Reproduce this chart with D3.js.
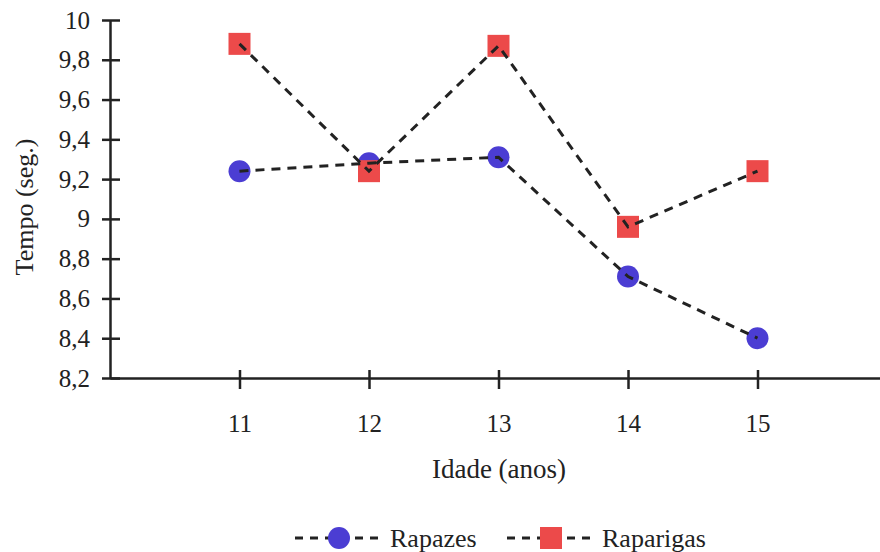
<!DOCTYPE html>
<html>
<head>
<meta charset="utf-8">
<script src="https://cdn.jsdelivr.net/npm/d3@7"></script>
<style>
  body { margin: 0; background: #fff; }
</style>
</head>
<body>
<div id="chart"></div>
<script>
// idades e tempos
const idades = [11, 12, 13, 14, 15]
const rapazes = [9.24, 9.28, 9.31, 8.71, 8.40]
const raparigas = [9.88, 9.24, 9.87, 8.96, 9.24]
const yTicks = [8.2, 8.4, 8.6, 8.8, 9, 9.2, 9.4, 9.6, 9.8, 10]
const series = [
    { name: "Rapazes", values: rapazes, shape: "circle", color: "#4b3dd3" },
    { name: "Raparigas", values: raparigas, shape: "square", color: "#ec4a4a" }
]

const width = 880, height = 552
const serif = "'Times New Roman', 'Liberation Serif', Times, serif"
const pt = d3.formatLocale({ decimal: ",", thousands: ".", grouping: [3], currency: ["", "€"] })
const fmt = pt.format("~g")

let svg = d3.select("#chart").append("svg")
    .attr("width", width)
    .attr("height", height)
    .style("font-family", serif)

const x = d3.scaleLinear().domain([10, 16]).range([110, 887])
const y = d3.scaleLinear().domain([8.2, 10]).range([378, 20])

// eixo y
svg.append("g")
    .attr("transform", "translate(110,0)")
    .call(d3.axisLeft(y).tickValues(yTicks).tickFormat(fmt).tickSizeOuter(0))
    .attr("font-family", serif)
    .call(g => g.select(".domain").attr("stroke", "#222").attr("stroke-width", 2.5))
    .call(g => g.selectAll(".tick line").attr("x1", -8).attr("x2", 10)
                .attr("stroke", "#222").attr("stroke-width", 2.5))
    .call(g => g.selectAll(".tick text").attr("x", -20).attr("fill", "#222")
                .style("font-size", "25px"))

// eixo x
svg.append("g")
    .attr("transform", "translate(0,378)")
    .call(d3.axisBottom(x).tickValues(idades).tickFormat(d3.format("d")).tickSizeOuter(0))
    .attr("font-family", serif)
    .call(g => g.select(".domain").attr("stroke", "#222").attr("stroke-width", 2.5))
    .call(g => g.selectAll(".tick line").attr("y1", -8).attr("y2", 11)
                .attr("stroke", "#222").attr("stroke-width", 2.5))
    .call(g => g.selectAll(".tick text").attr("y", 36).attr("fill", "#222")
                .style("font-size", "25px"))

// títulos
svg.append("text")
    .attr("transform", "translate(33,207) rotate(-90)")
    .attr("text-anchor", "middle")
    .attr("fill", "#222")
    .style("font-size", "26px")
    .text("Tempo (seg.)")

svg.append("text")
    .attr("x", 499).attr("y", 478)
    .attr("text-anchor", "middle")
    .attr("fill", "#222")
    .style("font-size", "27px")
    .text("Idade (anos)")

function drawMarker(g, shape, color, cx, cy) {
    if (shape == "circle") {
        g.append("circle").attr("cx", cx).attr("cy", cy).attr("r", 11).attr("fill", color)
    } else {
        g.append("rect").attr("x", cx - 11).attr("y", cy - 11)
            .attr("width", 22).attr("height", 22).attr("fill", color)
    }
}

// marcadores
const gMarks = svg.append("g")
series.forEach(s => {
    s.values.forEach((v, i) => drawMarker(gMarks, s.shape, s.color, x(idades[i]), y(v)))
})

// linhas tracejadas por cima
const line = d3.line().x((d, i) => x(idades[i])).y(d => y(d))
series.forEach(s => {
    svg.append("path")
        .attr("d", line(s.values))
        .attr("fill", "none")
        .attr("stroke", "#222")
        .attr("stroke-width", 3)
        .attr("stroke-dasharray", "9,7")
})

// legenda
const legendPos = [295, 507]
series.forEach((s, i) => {
    const lg = svg.append("g").attr("transform", `translate(${legendPos[i]},538)`)
    lg.append("line")
        .attr("x1", 0).attr("x2", 88)
        .attr("stroke", "#222").attr("stroke-width", 3)
        .attr("stroke-dasharray", "8,7")
    drawMarker(lg, s.shape, s.color, 44, 0)
    lg.append("text")
        .attr("x", 95).attr("y", 0).attr("dy", "0.33em")
        .attr("fill", "#222")
        .style("font-size", "26px")
        .text(s.name)
})
</script>
</body>
</html>
